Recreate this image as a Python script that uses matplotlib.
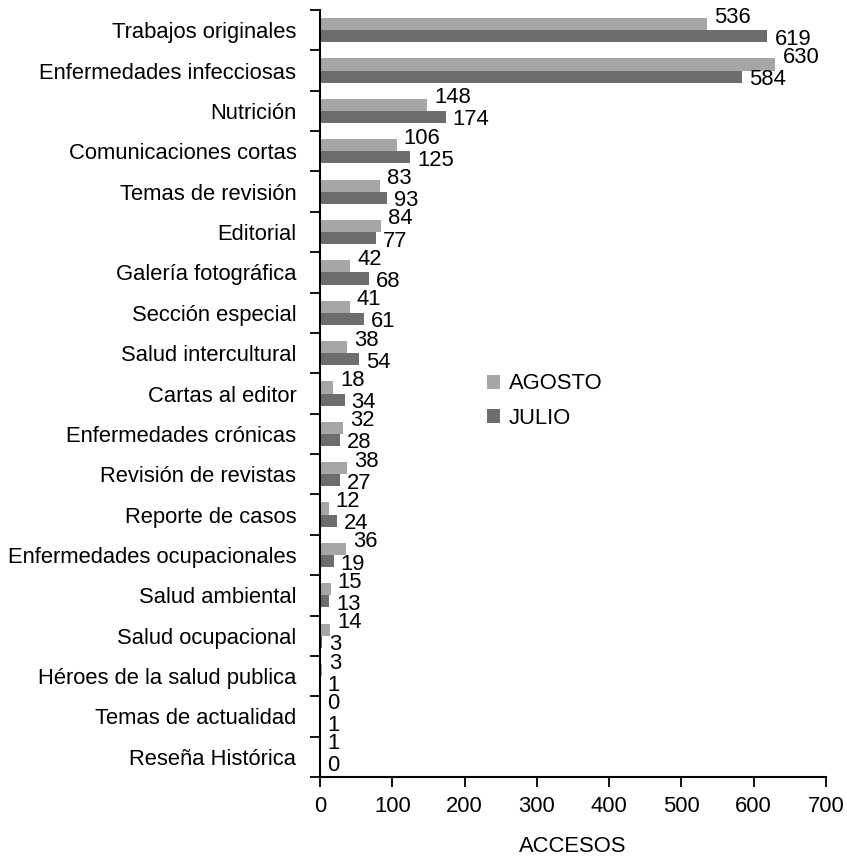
import matplotlib
matplotlib.use('Agg')
import matplotlib.pyplot as plt
import numpy as np

plt.rcParams['font.family'] = ['Liberation Sans', 'DejaVu Sans']

categorias = ['Trabajos originales', 'Enfermedades infecciosas', 'Nutrición',
              'Comunicaciones cortas', 'Temas de revisión', 'Editorial',
              'Galería fotográfica', 'Sección especial', 'Salud intercultural',
              'Cartas al editor', 'Enfermedades crónicas', 'Revisión de revistas',
              'Reporte de casos', 'Enfermedades ocupacionales', 'Salud ambiental',
              'Salud ocupacional', 'Héroes de la salud publica',
              'Temas de actualidad', 'Reseña Histórica']
agosto = [536, 630, 148, 106, 83, 84, 42, 41, 38, 18, 32, 38, 12, 36, 15, 14, 3, 0, 1]
julio = [619, 584, 174, 125, 93, 77, 68, 61, 54, 34, 28, 27, 24, 19, 13, 3, 1, 1, 0]
xticks = [0, 100, 200, 300, 400, 500, 600, 700]

fs = 15.8

fig = plt.figure(figsize=(8.47, 8.57), dpi=100)
ax = fig.add_axes([320 / 847, 80 / 857, 506 / 847, 767 / 857])

y = np.arange(len(categorias))
h = 0.3
ax.barh(y - h / 2, agosto, height=h, color='#a6a6a6', label='AGOSTO')
ax.barh(y + h / 2, julio, height=h, color='#6d6d6d', label='JULIO')

for i in range(len(categorias)):
    ax.annotate(str(agosto[i]), (agosto[i], y[i] - h / 2), xytext=(7, 7),
                textcoords='offset pixels', ha='left', va='center', fontsize=fs)
    ax.annotate(str(julio[i]), (julio[i], y[i] + h / 2), xytext=(7, -3),
                textcoords='offset pixels', ha='left', va='center', fontsize=fs)

ax.set_xlim(0, 700)
ax.set_ylim(len(categorias) - 0.5, -0.5)
ax.set_xticks(xticks)
ax.set_yticks(y)
ax.set_yticklabels(categorias, fontsize=fs)
ax.set_yticks(np.arange(len(categorias) + 1) - 0.5, minor=True)
ax.tick_params(axis='y', which='major', length=0, pad=17)
ax.tick_params(axis='y', which='minor', length=7, width=1.3)
ax.tick_params(axis='x', length=7, width=1.3, labelsize=fs, pad=7)

for s in ['top', 'right']:
    ax.spines[s].set_visible(False)
for s in ['left', 'bottom']:
    ax.spines[s].set_linewidth(1.5)

ax.set_xlabel('ACCESOS', fontsize=fs, labelpad=13)

ax.legend(loc='center left', bbox_to_anchor=(467 / 847, 1 - 401 / 857),
          bbox_transform=fig.transFigure, frameon=False, fontsize=fs,
          handlelength=0.6, handleheight=0.6, handletextpad=0.4, labelspacing=0.6)

fig.savefig('out.png', dpi=100)
